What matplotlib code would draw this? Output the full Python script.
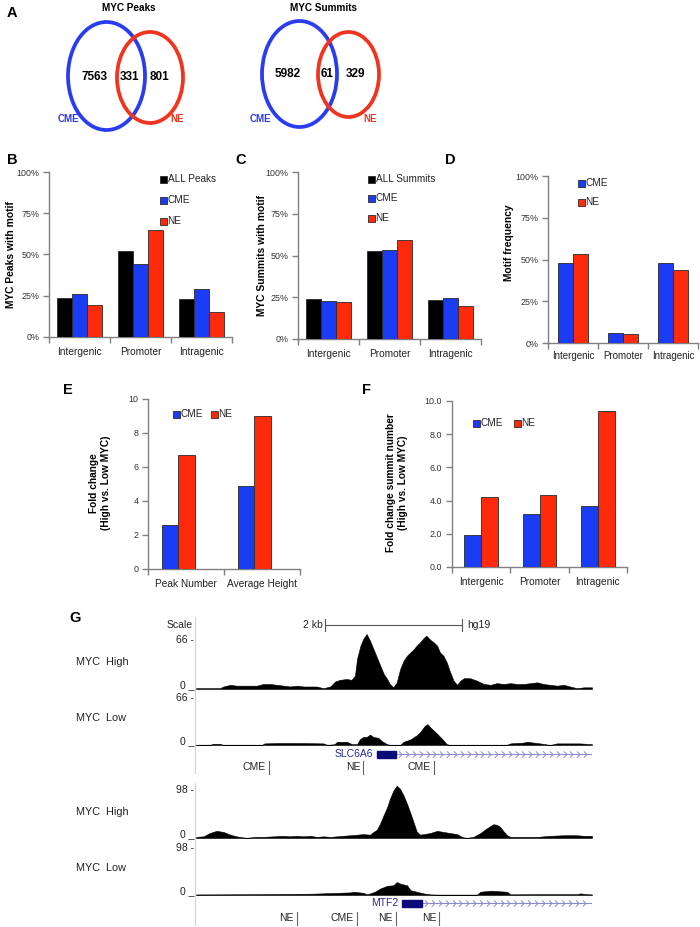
import numpy as np
import matplotlib
matplotlib.use('Agg')
import matplotlib.pyplot as plt
from matplotlib.patches import Ellipse, Rectangle
from matplotlib.path import Path

W, H = 700, 927
SANS = 'Liberation Sans'
plt.rcParams['font.family'] = [SANS, 'DejaVu Sans']

BLUE = '#1a3cf5'
RED = '#ff2a0a'
BLACK = '#000000'
SPINE = '#808080'
VBLUE = '#2a3cf0'
VRED = '#f0341e'

# ---------------- data ----------------
venn_titles = ['MYC Peaks', 'MYC Summits']
venn_cme_only = [7563, 5982]
venn_overlap = [331, 61]
venn_ne_only = [801, 329]

regions = ['Intergenic', 'Promoter', 'Intragenic']
b_all = [23.6, 52.4, 23.2]
b_cme = [26.2, 44.4, 29.2]
b_ne = [19.4, 65.1, 15.3]
c_all = [24.0, 52.8, 23.4]
c_cme = [23.0, 53.4, 24.8]
c_ne = [22.4, 59.0, 20.0]
d_cme = [48.0, 6.2, 48.2]
d_ne = [53.0, 5.2, 44.0]
e_cats = ['Peak Number', 'Average Height']
e_cme = [2.6, 4.9]
e_ne = [6.7, 9.0]
f_cme = [1.93, 3.2, 3.7]
f_ne = [4.2, 4.35, 9.38]

# genome browser tracks (position in bp within window, signal)
window_bp = 5780
high1_pos = [0, 200, 350, 400, 500, 590, 690, 790, 890, 980, 1080, 1180, 1280, 1370, 1470, 1570, 1670, 1760,
             1860, 1960, 2030, 2100, 2200, 2270, 2320, 2350, 2400, 2440, 2490, 2540, 2590, 2640, 2690, 2740,
             2790, 2830, 2880, 2930, 2980, 3030, 3080, 3130, 3180, 3220, 3270, 3320, 3360, 3420, 3470, 3520,
             3560, 3610, 3660, 3710, 3760, 3810, 3860, 3910, 4000, 4100, 4200, 4300, 4390, 4490, 4590, 4690,
             4780, 4880, 4980, 5070, 5170, 5270, 5370, 5460, 5560, 5660, 5780]
high1_val = [1, 1, 1, 3, 5, 4, 4, 4, 4, 6, 6, 5, 4, 3, 4, 3, 3, 3, 1, 3, 9, 11, 12, 11, 16, 36, 52, 60, 66, 58,
             48, 38, 28, 18, 12, 6, 2, 8, 24, 34, 40, 44, 48, 52, 56, 61, 64, 59, 56, 52, 44, 40, 32, 20, 10,
             5, 10, 13, 13, 10, 6, 5, 7, 6, 7, 6, 6, 7, 8, 6, 5, 4, 5, 3, 1, 2, 2]
low1_pos = [0, 200, 250, 350, 400, 960, 1000, 1200, 1500, 1860, 1920, 2020, 2060, 2200, 2280, 2350, 2390, 2440,
            2490, 2540, 2590, 2660, 2710, 2790, 2830, 2980, 3030, 3130, 3220, 3270, 3340, 3380, 3420, 3520,
            3610, 3660, 3710, 4530, 4590, 4780, 4830, 5020, 5170, 5270, 5600, 5780]
low1_val = [0, 0, 1.5, 1.5, 0, 0, 2, 2.5, 2.5, 2, 0, 1, 4, 4, 1, 1, 7, 10, 10, 13, 10, 9, 5, 1, 0, 0, 4, 7, 12,
            16, 24, 26, 22, 14, 6, 1, 0, 0, 2, 3, 4, 2, 0, 2, 2, 1]
high2_pos = [0, 110, 200, 300, 400, 500, 590, 690, 740, 790, 890, 980, 1130, 1280, 1370, 1470, 1570, 1670, 1760,
             1860, 1960, 2060, 2150, 2250, 2350, 2440, 2540, 2590, 2640, 2690, 2740, 2790, 2830, 2880, 2930,
             2980, 3030, 3080, 3130, 3180, 3220, 3270, 3320, 3420, 3520, 3610, 3710, 3810, 3880, 3950, 4050,
             4150, 4250, 4340, 4390, 4440, 4490, 4540, 4590, 4690, 4780, 4980, 5170, 5370, 5460, 5560, 5660, 5780]
high2_val = [2, 3, 9, 13, 11, 6, 3, 1, 0, 1, 2, 2, 3, 4, 3, 4, 3, 4, 2, 3, 2, 3, 4, 5, 6, 7, 6, 11, 15, 27, 42,
             56, 71, 86, 95, 89, 77, 62, 45, 27, 12, 6, 7, 9, 13, 11, 9, 7, 2, 0, 2, 9, 18, 25, 24, 20, 12, 5, 2,
             2, 2, 2, 4, 5, 5, 5, 4, 4]
low2_pos = [0, 880, 1700, 2250, 2300, 2440, 2500, 2610, 2690, 2790, 2880, 2930, 2980, 3080, 3130, 3220, 3320,
            3420, 3520, 4100, 4150, 4300, 4540, 4590, 5000, 5560, 5610, 5700, 5780]
low2_val = [1, 1.5, 2.4, 4.8, 6, 4, 1.2, 6, 12, 17, 18, 24, 21, 18, 9, 6, 3, 1.2, 0.6, 0.6, 6, 8, 6, 1.2, 1.5,
            1.5, 3, 1.5, 1]
track_scales = [66, 66, 98, 98]
track_names = ['MYC  High', 'MYC  Low', 'MYC  High', 'MYC  Low']
scale_bar_bp = [1880, 3880]
genes = ['SLC6A6', 'MTF2']
gene_start = [2640, 3010]
gene_exon_end = [2920, 3300]
marks1_lbl = ['CME', 'NE', 'CME']
marks1_pos = [1066, 2440, 3475]
marks2_lbl = ['NE', 'CME', 'NE', 'NE']
marks2_pos = [1475, 2350, 2920, 3550]

# ---------------- figure ----------------
fig = plt.figure(figsize=(W / 100, H / 100), dpi=100)
fig.patch.set_facecolor('white')


def px_axes(l, t, r, b):
    ax = fig.add_axes([l / W, 1 - b / H, (r - l) / W, (b - t) / H])
    ax.set_facecolor('none')
    return ax


def bar_panel(box, cats, series, colors, width, offsets, ymax, yticks, yfmt, shift=0.0, xpad=7, xfs=7.3):
    ax = px_axes(*box)
    x = np.arange(len(cats))
    for vals, col, off in zip(series, colors, offsets):
        ax.bar(x + shift + off, vals, width, color=col, edgecolor='#2a2a2a', linewidth=0.6, zorder=3)
    ax.set_xlim(-0.5, len(cats) - 0.5)
    ax.set_ylim(0, ymax)
    for s in ['top', 'right']:
        ax.spines[s].set_visible(False)
    for s in ['left', 'bottom']:
        ax.spines[s].set_color(SPINE)
        ax.spines[s].set_linewidth(1.0)
    ax.set_yticks(yticks)
    ax.set_yticklabels([yfmt(v) for v in yticks], fontsize=6.4, color='#333333')
    ax.tick_params(axis='y', length=4, width=1, color=SPINE, pad=3, direction='out')
    ax.set_xticks(np.arange(len(cats) + 1) - 0.5)
    ax.set_xticklabels([''] * (len(cats) + 1))
    ax.tick_params(axis='x', which='major', length=4, width=1, color=SPINE, direction='out')
    ax.set_xticks(x, minor=True)
    ax.set_xticklabels(cats, minor=True, fontsize=xfs, color='#222222')
    ax.tick_params(axis='x', which='minor', length=0, pad=xpad)
    return ax


pct = lambda v: f'{int(v)}%'
bar_panel((49, 172, 232, 337), regions, [b_all, b_cme, b_ne], [BLACK, BLUE, RED], 0.25, [-0.25, 0, 0.25],
          100, [0, 25, 50, 75, 100], pct)
bar_panel((298, 172, 481, 339), regions, [c_all, c_cme, c_ne], [BLACK, BLUE, RED], 0.25, [-0.25, 0, 0.25],
          100, [0, 25, 50, 75, 100], pct)
bar_panel((548, 176, 698, 343), regions, [d_cme, d_ne], [BLUE, RED], 0.3, [-0.15, 0.15],
          100, [0, 25, 50, 75, 100], pct, xpad=6, xfs=7.0)
bar_panel((148, 399, 300, 569), e_cats, [e_cme, e_ne], [BLUE, RED], 0.22, [-0.11, 0.11],
          10, [0, 2, 4, 6, 8, 10], lambda v: f'{int(v)}', shift=-0.1)
bar_panel((452, 401, 627, 567), regions, [f_cme, f_ne], [BLUE, RED], 0.286, [-0.143, 0.143],
          10, [0, 2, 4, 6, 8, 10], lambda v: f'{v:.1f}')

# ---------------- genome browser tracks ----------------
track_boxes = [(634, 689), (692, 745), (784, 838), (842, 895)]
track_data = [(high1_pos, high1_val), (low1_pos, low1_val), (high2_pos, high2_val), (low2_pos, low2_val)]
for (top, bot), (xs, ys), ymax in zip(track_boxes, track_data, track_scales):
    ax = px_axes(196, top, 592, bot)
    ax.axhline(0, color='#9a9a9a', lw=1.0, zorder=1)
    ax.fill_between(xs, ys, 0, color='black', lw=0.4, edgecolor='black', zorder=2)
    ax.set_xlim(0, window_bp)
    ax.set_ylim(0, ymax)
    ax.axis('off')

axG = px_axes(196, 600, 592, 927)
axG.set_xlim(0, window_bp)
axG.set_ylim(927, 600)
axG.axis('off')
# scale bar
axG.plot(scale_bar_bp, [625, 625], color='#555555', lw=0.8)
for xb in scale_bar_bp:
    axG.plot([xb, xb], [619, 631], color='#555555', lw=0.8)
# gene models
chev = Path([(-0.5, 1), (0.5, 0), (-0.5, -1)], [Path.MOVETO, Path.LINETO, Path.LINETO])
for name, gs, ge, gy in zip(genes, gene_start, gene_exon_end, [754, 903]):
    axG.plot([gs, window_bp], [gy, gy], color='#8a8ad0', lw=0.8, zorder=2)
    cx = np.arange(ge + 60, window_bp - 20, 100)
    axG.plot(cx, [gy] * len(cx), ls='none', marker=chev, ms=4.5, mfc='none', mec='#8a8ad0', mew=0.7)
    axG.add_patch(Rectangle((gs, gy - 3.5), ge - gs, 7, color='#0a0a78', zorder=3))
    axG.text(gs - 50, gy, name, ha='right', va='center', fontsize=7.5, color='#2a2a9a')
# CME / NE markers
for lbls, poss, my in [(marks1_lbl, marks1_pos, 767), (marks2_lbl, marks2_pos, 918)]:
    for lb, p in zip(lbls, poss):
        axG.plot([p, p], [my - 6.5, my + 6.5], color='#666666', lw=0.8)
        axG.text(p - 45, my, lb, ha='right', va='center', fontsize=7.5, color='#222222')

# ---------------- overlay (pixel coords) ----------------
ax0 = fig.add_axes([0, 0, 1, 1], zorder=10)
ax0.set_xlim(0, W)
ax0.set_ylim(H, 0)
ax0.axis('off')
ax0.patch.set_alpha(0)


def T(x, y, s, **kw):
    kw.setdefault('ha', 'center')
    kw.setdefault('va', 'center')
    ax0.text(x, y, s, **kw)


# Venn diagrams: (blue centre, blue size, red centre, red size, title x, number x positions, label x)
venn_geo = [((106.5, 76), (77, 108), (150, 77.5), (66, 91), 129, (95, 130, 160), (68, 177)),
            ((299.5, 74), (75, 106), (348.5, 74.5), (61, 85), 324, (288, 327, 356), (260, 370))]
for i, (bc, bs, rc, rs, tx, nx, lx) in enumerate(venn_geo):
    ax0.add_patch(Ellipse(bc, bs[0], bs[1], fill=False, ec=VBLUE, lw=2.7))
    ax0.add_patch(Ellipse(rc, rs[0], rs[1], fill=False, ec=VRED, lw=2.7))
    T(tx, 8, venn_titles[i], fontsize=7.2, fontweight='bold')
    ym = (bc[1] + rc[1]) / 2
    for xx, val in zip(nx, [venn_cme_only[i], venn_overlap[i], venn_ne_only[i]]):
        T(xx, ym, str(val), fontsize=8.5, fontweight='bold')
    T(lx[0], 119, 'CME', fontsize=7, fontweight='bold', color=VBLUE)
    T(lx[1], 119, 'NE', fontsize=7, fontweight='bold', color=VRED)

# panel letters
for lt, x, y in [('A', 7, 13), ('B', 7, 160), ('C', 235, 160), ('D', 445, 160), ('E', 63, 390),
                 ('F', 362, 390), ('G', 69, 618)]:
    T(x, y, lt, fontsize=10.5, fontweight='bold', ha='left')

# y labels
T(11, 255, 'MYC Peaks with motif', rotation=90, fontsize=7.4, fontweight='bold')
T(262, 255, 'MYC Summits with motif', rotation=90, fontsize=7.4, fontweight='bold')
T(509, 243, 'Motif frequency', rotation=90, fontsize=7.4, fontweight='bold')
T(100, 483, 'Fold change\n(High vs. Low MYC)', rotation=90, fontsize=7.3, fontweight='bold', linespacing=1.25)
T(397, 483, 'Fold change summit number\n(High vs. Low MYC)', rotation=90, fontsize=7.3, fontweight='bold',
  linespacing=1.25)


# legends
def legend_item(x, y, color, label):
    ax0.add_patch(Rectangle((x - 3.5, y - 3.5), 7, 7, facecolor=color, edgecolor='#2a2a2a', lw=0.6))
    T(x + 4.5, y, label, ha='left', fontsize=7.2, color='#222222')


for (lbl, col), y in zip([('ALL Peaks', BLACK), ('CME', BLUE), ('NE', RED)], [179, 200, 221]):
    legend_item(163, y, col, lbl)
for (lbl, col), y in zip([('ALL Summits', BLACK), ('CME', BLUE), ('NE', RED)], [179, 198, 218]):
    legend_item(371, y, col, lbl)
for (lbl, col), y in zip([('CME', BLUE), ('NE', RED)], [183, 202]):
    legend_item(581, y, col, lbl)
legend_item(176, 414, BLUE, 'CME')
legend_item(214, 414, RED, 'NE')
legend_item(476, 423, BLUE, 'CME')
legend_item(517, 423, RED, 'NE')

# genome browser labels
T(193, 625, 'Scale', ha='right', fontsize=7.5, color='#222222')
T(323, 625, '2 kb', ha='right', fontsize=7.5, color='#222222')
T(467, 625, 'hg19', ha='left', fontsize=7.5, color='#222222')
for (top, bot), sc in zip(track_boxes, track_scales):
    T(194, top + 6, f'{sc} -', ha='right', fontsize=7.5, color='#222222')
    T(194, bot - 4, '0 _', ha='right', fontsize=7.5, color='#222222')
for name, y in zip(track_names, [662, 718, 812, 868]):
    T(76, y, name, ha='left', fontsize=7.8, color='#222222')
ax0.plot([195, 195], [617, 773], color='#f4c4cc', lw=0.8)
ax0.plot([195, 195], [783, 925], color='#f4c4cc', lw=0.8)

fig.savefig('out.png', dpi=100, facecolor='white')
